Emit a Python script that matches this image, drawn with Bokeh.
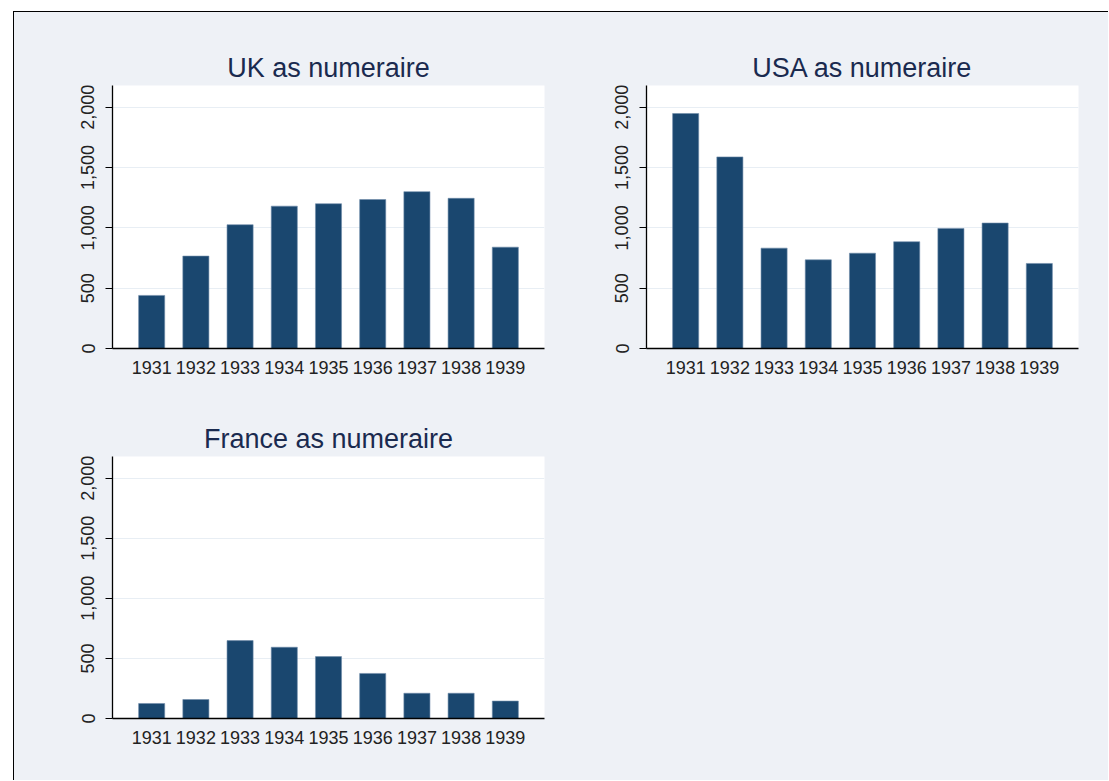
from bokeh.plotting import figure
from bokeh.layouts import column, row
from bokeh.models import Range1d, FixedTicker, NumeralTickFormatter, Spacer
from bokeh.embed import file_html
from bokeh.resources import INLINE

years = [1931, 1932, 1933, 1934, 1935, 1936, 1937, 1938, 1939]
uk_values = [440, 766, 1026, 1180, 1200, 1235, 1300, 1245, 840]
usa_values = [1948, 1588, 832, 735, 790, 885, 995, 1040, 705]
france_values = [125, 158, 648, 593, 515, 375, 210, 210, 145]
titles = ["UK as numeraire", "USA as numeraire", "France as numeraire"]
y_ticks = [0, 500, 1000, 1500, 2000]

BG = "#EEF1F6"
BAR = "#1A476F"
FONT = "Liberation Sans"


def panel(title, values, width, height, left, right, top, bottom):
    p = figure(width=width, height=height, output_backend="svg", toolbar_location=None,
               x_range=Range1d(1930.114, 1939.886), y_range=Range1d(0, 2180),
               min_border_left=left, min_border_right=right,
               min_border_top=top, min_border_bottom=bottom)
    p.vbar(x=years, top=values, width=0.59, fill_color=BAR, line_color="#6E8CAA", line_width=0.6)
    p.background_fill_color = "white"
    p.border_fill_color = BG
    p.outline_line_color = None
    p.title.text = title
    p.title.align = "center"
    p.title.text_font = FONT
    p.title.text_font_style = "normal"
    p.title.text_font_size = "27px"
    p.title.text_color = "#1A2A4F"
    p.title.standoff = 6
    p.xgrid.visible = False
    p.ygrid.grid_line_color = "#E8EEF4"
    p.ygrid.grid_line_width = 1
    p.yaxis.ticker = FixedTicker(ticks=y_ticks)
    p.yaxis.formatter = NumeralTickFormatter(format="0,0")
    p.yaxis.major_label_orientation = "vertical"
    p.xaxis.ticker = FixedTicker(ticks=years)
    for ax in (p.xaxis[0], p.yaxis[0]):
        ax.axis_line_color = "black"
        ax.axis_line_width = 1.3
        ax.major_tick_line_color = "black"
        ax.minor_tick_line_color = None
        ax.major_tick_in = 0
        ax.major_label_text_font = FONT
        ax.major_label_text_font_size = "18px"
        ax.major_label_text_color = "#222222"
    p.yaxis.major_tick_out = 7
    p.yaxis.major_label_standoff = 11
    p.xaxis.major_tick_out = 0
    p.xaxis.major_tick_line_color = None
    p.xaxis.major_label_standoff = 12
    return p


p1 = panel(titles[0], uk_values, 582, 388, 98, 52, 73, 52)
p2 = panel(titles[1], usa_values, 512, 388, 50, 30, 73, 52)
p3 = panel(titles[2], france_values, 582, 380, 98, 52, 56, 62)
blank = Spacer(width=512, height=380, styles={"background-color": BG})

layout = column(row(p1, p2), row(p3, blank),
                styles={"margin-left": "13px", "margin-top": "11px",
                        "border-left": "1px solid black", "border-top": "1px solid black",
                        "background-color": BG})

open("out.html", "w").write(file_html(layout, INLINE))
